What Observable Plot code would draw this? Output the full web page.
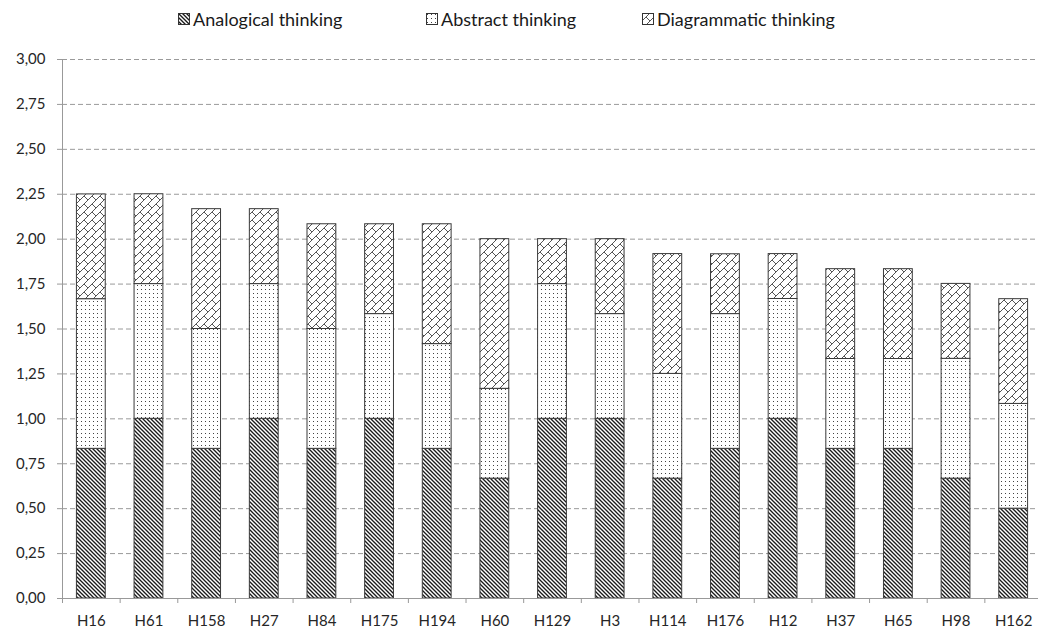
<!DOCTYPE html>
<html><head><meta charset="utf-8">
<script src="https://cdn.jsdelivr.net/npm/d3@7"></script>
<script src="https://cdn.jsdelivr.net/npm/@observablehq/plot@0.6"></script>
<style>
body{margin:0;background:#fff;font-family:Lato,"Open Sans",sans-serif;}
#legend{height:40px;position:relative;font-size:18px;color:#1a1a1a;}
.item{position:absolute;top:7px;display:flex;align-items:center;gap:3px;line-height:24px;white-space:nowrap;}
.item svg{display:block;}
</style></head><body>
<svg width="0" height="0" style="position:absolute">
<defs>
<pattern id="pAnalog" width="4" height="4" patternUnits="userSpaceOnUse">
<rect width="4" height="4" fill="#fff"/>
<path d="M-1,-1L5,5M-1,3L1,5M3,-1L5,1" stroke="#1a1a1a" stroke-width="1.35"/>
</pattern>
<pattern id="pAbstract" width="4" height="4" patternUnits="userSpaceOnUse">
<rect width="4" height="4" fill="#fff"/>
<rect x="1" y="1" width="1" height="1" fill="#444"/>
</pattern>
<pattern id="pDiag" width="8" height="8" patternUnits="userSpaceOnUse">
<rect width="8" height="8" fill="#fff"/>
<path d="M-1,9L9,-1M4,4L8,8" stroke="#555" stroke-width="1"/>
</pattern>
</defs></svg>
<div id="legend"></div>
<div id="chart"></div>
<script>
const categories = ["H16","H61","H158","H27","H84","H175","H194","H60","H129","H3","H114","H176","H12","H37","H65","H98","H162"];
const analogical   = [0.833,1.000,0.833,1.000,0.833,1.000,0.833,0.667,1.000,1.000,0.667,0.833,1.000,0.833,0.833,0.667,0.500];
const abstractVals = [0.833,0.750,0.667,0.750,0.667,0.583,0.583,0.500,0.750,0.583,0.583,0.750,0.667,0.500,0.500,0.667,0.583];
const diagrammatic = [0.583,0.500,0.667,0.417,0.583,0.500,0.667,0.833,0.250,0.417,0.667,0.333,0.250,0.500,0.500,0.417,0.583];
const seriesNames = ["Analogical thinking","Abstract thinking","Diagrammatic thinking"];
const seriesFills = ["url(#pAnalog)","url(#pAbstract)","url(#pDiag)"];
const yTicks = [0,0.25,0.5,0.75,1,1.25,1.5,1.75,2,2.25,2.5,2.75,3];

const table = categories.flatMap((c,i)=>[
  {cat:c, series:seriesNames[0], value:analogical[i]},
  {cat:c, series:seriesNames[1], value:abstractVals[i]},
  {cat:c, series:seriesNames[2], value:diagrammatic[i]}
]);

// legend
const legendPos = [178, 426, 642];
const legend = document.getElementById("legend");
seriesNames.forEach((s,i)=>{
  const d = document.createElement("div");
  d.className="item"; d.style.left = legendPos[i]+"px";
  d.innerHTML = `<svg width="12" height="12"><rect x="0.5" y="0.5" width="11" height="11" fill="${seriesFills[i]}" stroke="#333"/></svg><span>${s}</span>`;
  legend.appendChild(d);
});

const W=1038, H=591, mL=62, mR=-4, mT=19, mB=33;
const step = (W-mL-mR)/categories.length;
const fmt = d=>d3.format(".2f")(d).replace(".",",");

const chart = Plot.plot({
  width:W, height:H, marginLeft:mL, marginRight:mR, marginTop:mT, marginBottom:mB,
  style:{fontFamily:"Lato, 'Open Sans', sans-serif", fontSize:"15px", color:"#262626", background:"#fff", overflow:"hidden"},
  x:{domain:categories, paddingInner:0.5, paddingOuter:0.25, round:false, label:null},
  y:{domain:[0,3], label:null},
  color:{domain:seriesNames, range:seriesFills},
  marks:[
    Plot.gridY(yTicks,{stroke:"#9a9a9a", strokeOpacity:1, strokeDasharray:"5,3"}),
    Plot.barY(table,{x:"cat", y:"value", fill:"series", stroke:"#3a3a3a", strokeWidth:1}),
    Plot.ruleY([0],{stroke:"#999"}),
    Plot.ruleX([categories[0]],{dx:-step/2, stroke:"#999"}),
    Plot.ruleX(categories,{dx:-step/2, y1:0, y2:0, insetBottom:-5, stroke:"#999"}),
    Plot.axisY(yTicks,{tickSize:5, tickPadding:12, tickFormat:fmt, stroke:"#999", fontSize:15}),
    Plot.axisX({tickSize:0, tickPadding:17, fontSize:15})
  ]
});
document.getElementById("chart").appendChild(chart);
</script>
</body></html>
